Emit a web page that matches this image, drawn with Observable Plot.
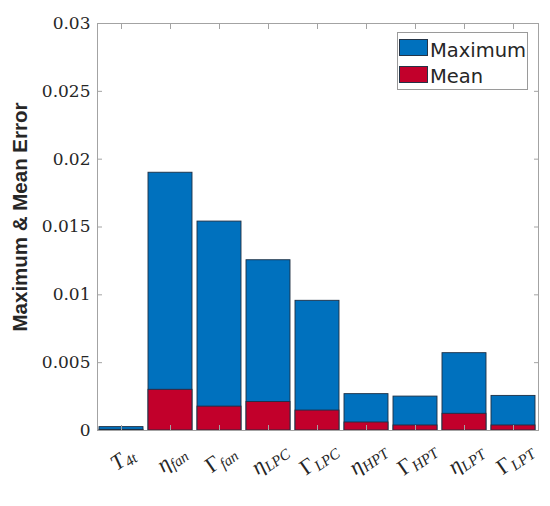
<!DOCTYPE html>
<html><head><meta charset="utf-8">
<script src="https://cdn.jsdelivr.net/npm/d3@7"></script>
<script src="https://cdn.jsdelivr.net/npm/@observablehq/plot@0.6"></script>
<style>
body{margin:0;background:#fff;}
#wrap{position:relative;width:550px;height:506px;}
#legend{position:absolute;left:397px;top:32px;width:129px;height:56px;border:1px solid #9a9a9a;background:#fff;font-family:"DejaVu Sans",sans-serif;font-size:19.5px;line-height:19px;color:#262626;}
.sw{position:absolute;left:1px;width:29px;height:17px;border:1px solid #243447;box-sizing:border-box;}
.lt{position:absolute;left:32px;white-space:nowrap;}
</style></head><body><div id="wrap"></div>
<script>
const categories = ["T4t","eta_fan","Gamma_fan","eta_LPC","Gamma_LPC","eta_HPT","Gamma_HPT","eta_LPT","Gamma_LPT"];
const labelSymbol = ["T","η","Γ","η","Γ","η","Γ","η","Γ"];
const labelSubscript = ["4t","fan","fan","LPC","LPC","HPT","HPT","LPT","LPT"];
const maxError = [0.00025, 0.0190, 0.0154, 0.01255, 0.00956, 0.00268, 0.0025, 0.0057, 0.00255];
const meanError = [0.00005, 0.0030, 0.00176, 0.0021, 0.00147, 0.00059, 0.00037, 0.00123, 0.00037];
const yTicks = [0, 0.005, 0.01, 0.015, 0.02, 0.025, 0.03];
const seriesNames = ["Maximum", "Mean"];
const seriesColors = ["#0071BE", "#C2002B"];
const yTitle = "Maximum & Mean Error";
const labelAngle = -35;

const rows = categories.map((c, i) => ({category: c, max: maxError[i], mean: meanError[i]}));
const edge = "#1d2f44";
const axisColor = "#a3a3a3";

const chart = Plot.plot({
  width: 550, height: 506,
  marginLeft: 97, marginRight: 12, marginTop: 23, marginBottom: 76,
  style: {background: "white", color: "#262626", overflow: "visible"},
  x: {domain: categories, paddingInner: 0.1, paddingOuter: 0.05},
  y: {domain: [0, 0.03]},
  marks: [
    Plot.barY(rows, {x: "category", y: "max", fill: seriesColors[0], stroke: edge, strokeWidth: 0.9}),
    Plot.barY(rows, {x: "category", y: "mean", fill: seriesColors[1], stroke: edge, strokeWidth: 0.9}),
    Plot.frame({stroke: axisColor}),
    Plot.axisY(yTicks, {anchor: "left", tickSize: -5, tickPadding: 12, label: null, stroke: axisColor,
      tickFormat: d => String(d), fontSize: 17, fontFamily: "DejaVu Serif, serif", fill: "#262626"}),
    Plot.axisY(yTicks, {anchor: "right", tickSize: -5, label: null, stroke: axisColor, tickFormat: () => ""}),
    Plot.axisX({anchor: "bottom", tickSize: -5, label: null, stroke: axisColor, tickFormat: () => ""}),
    Plot.axisX({anchor: "top", tickSize: -5, label: null, stroke: axisColor, tickFormat: () => ""}),
    Plot.text(categories, {x: d => d, text: d => d, frameAnchor: "bottom", rotate: labelAngle,
      textAnchor: "middle", lineAnchor: "middle", dx: 1, dy: 28,
      fontSize: 22, fontFamily: "Liberation Serif, serif", fill: "#262626"}),
    Plot.text([yTitle], {text: d => d, frameAnchor: "left", rotate: -90, dx: -77, dy: -10,
      fontSize: 20.5, fontWeight: "bold", fontFamily: "Liberation Sans, Arial, sans-serif", fill: "#262626",
      textAnchor: "middle", lineAnchor: "middle"})
  ]
});

d3.select(chart).selectAll("text").each(function() {
  const i = categories.indexOf(this.textContent);
  if (i < 0) return;
  const t = d3.select(this);
  t.text(null);
  t.append("tspan").attr("font-style", labelSymbol[i] === "Γ" ? "normal" : "italic").text(labelSymbol[i]);
  t.append("tspan").attr("font-style", "italic").attr("font-size", 15).attr("dy", "0.25em").text(labelSubscript[i]);
});

const wrap = document.getElementById("wrap");
wrap.appendChild(chart);

const legend = document.createElement("div");
legend.id = "legend";
const rowTops = [[6, 8], [33, 34]];
seriesNames.forEach((name, i) => {
  const sw = document.createElement("div");
  sw.className = "sw";
  sw.style.top = rowTops[i][0] + "px";
  sw.style.background = seriesColors[i];
  const lt = document.createElement("div");
  lt.className = "lt";
  lt.style.top = rowTops[i][1] + "px";
  lt.textContent = name;
  legend.appendChild(sw);
  legend.appendChild(lt);
});
wrap.appendChild(legend);
</script></body></html>
